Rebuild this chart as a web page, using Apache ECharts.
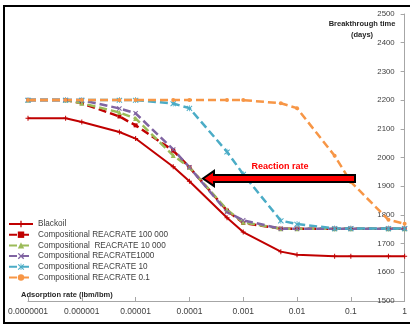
<!DOCTYPE html>
<html>
<head>
<meta charset="utf-8">
<script src="https://cdn.jsdelivr.net/npm/echarts@6/dist/echarts.min.js"></script>
<style>
html,body{margin:0;padding:0;background:#fff}
#chart{width:410px;height:325px}
</style>
</head>
<body>
<div id="chart"></div>
<script>
// adsorption rate (lbm/lbm), log scale
var xValues = [1e-7, 5e-7, 1e-6, 5e-6, 1e-5, 5e-5, 1e-4, 5e-4, 1e-3, 5e-3, 1e-2, 5e-2, 0.1, 0.5, 1];
var xTickLabels = ['0.0000001', '0.000001', '0.00001', '0.0001', '0.001', '0.01', '0.1', '1'];

// breakthrough time (days)
var blackoil   = [2137, 2137, 2124, 2089, 2066, 1968, 1917, 1790, 1740, 1672, 1661, 1656, 1656, 1656, 1656];
var rate100000 = [2200, 2200, 2189, 2143, 2112, 2024, 1966, 1815, 1772, 1752, 1752, 1752, 1752, 1752, 1752];
var rate10000  = [2200, 2200, 2189, 2157, 2136, 2007, 1966, 1818, 1774, 1752, 1752, 1752, 1752, 1752, 1752];
var rate1000   = [2200, 2200, 2200, 2171, 2154, 2028, 1966, 1810, 1781, 1752, 1752, 1752, 1752, 1752, 1752];
var rate10     = [2200, 2200, 2200, 2200, 2200, 2188, 2172, 2020, 1942, 1780, 1768, 1753, 1753, 1753, 1753];
var rate01     = [2200, 2200, 2200, 2200, 2200, 2200, 2200, 2200, 2200, 2189, 2172, 2006, 1915, 1783, 1769];

var seriesNames = ['Blackoil', 'Compositional REACRATE 100 000', 'Compositional  REACRATE 10 000',
    'Compositional REACRATE1000', 'Compositional REACRATE 10', 'Compositional REACRATE 0.1'];

var plusPath = 'path://M4,0H6V4H10V6H6V10H4V6H0V4H4Z';
var crossPath = 'path://M0,1.5L1.5,0L5,3.5L8.5,0L10,1.5L6.5,5L10,8.5L8.5,10L5,6.5L1.5,10L0,8.5L3.5,5Z';
var starPath = 'path://M0,2L1.2,0.8L4.4,4V0H5.6V4L8.8,0.8L10,2L6.4,5.6L10,9.2L8.8,10.4L5.6,7.2V10.4H4.4V7.2L1.2,10.4L0,9.2L3.6,5.6Z';

function toPairs(vals) {
    return xValues.map(function (x, i) { return [x, vals[i]]; });
}

function makeSeries(name, vals, color, symbol, size, dashed) {
    return {
        name: name,
        type: 'line',
        data: toPairs(vals),
        symbol: symbol,
        symbolSize: size,
        showSymbol: true,
        animation: false,
        itemStyle: { color: color },
        lineStyle: {
            color: color,
            width: dashed ? 2.5 : 2,
            type: dashed ? [8, 4] : 'solid'
        },
        emphasis: { disabled: true }
    };
}

var myChart = echarts.init(document.getElementById('chart'));

var option = {
    backgroundColor: '#fff',
    grid: { left: 28, right: 2, top: 14, bottom: 24 },
    legend: {
        orient: 'vertical',
        left: 8,
        top: 220,
        padding: 0,
        itemWidth: 24,
        itemHeight: 8,
        itemGap: 2.7,
        textStyle: { fontFamily: 'Liberation Sans', fontSize: 8.2, color: '#404040', lineHeight: 8 },
        data: seriesNames
    },
    xAxis: {
        type: 'log',
        logBase: 10,
        min: 1e-7,
        max: 1,
        axisLine: { show: true, lineStyle: { color: '#a6a6a6', width: 1 } },
        axisTick: { show: true, inside: true, length: 4, lineStyle: { color: '#a6a6a6' } },
        minorTick: { show: false },
        splitLine: { show: false },
        axisLabel: {
            margin: 6,
            fontFamily: 'Liberation Sans',
            fontSize: 8.5,
            color: '#404040',
            formatter: function (v) {
                return xTickLabels[Math.round(Math.log10(v)) + 7];
            }
        }
    },
    yAxis: {
        type: 'value',
        position: 'right',
        min: 1500,
        max: 2500,
        interval: 100,
        axisLine: { show: true, lineStyle: { color: '#a6a6a6', width: 1 } },
        axisTick: { show: true, inside: true, length: 4, lineStyle: { color: '#a6a6a6' } },
        splitLine: { show: false },
        axisLabel: {
            inside: true,
            margin: 10,
            fontFamily: 'Liberation Sans',
            fontSize: 7.8,
            color: '#404040',
            formatter: function (v) { return String(v); }
        }
    },
    graphic: [
        {
            type: 'rect',
            silent: true,
            shape: { x: 4, y: 6, width: 412, height: 317 },
            style: { fill: 'none', stroke: '#000', lineWidth: 2 }
        },
        {
            type: 'text',
            x: 362, y: 24,
            style: {
                text: 'Breakthrough time', fontFamily: 'Liberation Sans', fontSize: 7.5,
                fontWeight: 'bold', fill: '#262626', align: 'center', verticalAlign: 'middle'
            }
        },
        {
            type: 'text',
            x: 362, y: 35,
            style: {
                text: '(days)', fontFamily: 'Liberation Sans', fontSize: 7.5,
                fontWeight: 'bold', fill: '#262626', align: 'center', verticalAlign: 'middle'
            }
        },
        {
            type: 'text',
            x: 21, y: 295,
            style: {
                text: 'Adsorption rate (lbm/lbm)', fontFamily: 'Liberation Sans', fontSize: 7.5,
                fontWeight: 'bold', fill: '#262626', align: 'left', verticalAlign: 'middle'
            }
        },
        {
            type: 'text',
            x: 280, y: 167,
            style: {
                text: 'Reaction rate', fontFamily: 'Liberation Sans', fontSize: 9,
                fontWeight: 'bold', fill: '#ff0000', align: 'center', verticalAlign: 'middle'
            }
        },
        {
            type: 'polygon',
            z: 100,
            shape: {
                points: [[203, 178.5], [214, 171], [214, 175], [355, 175], [355, 182], [214, 182], [214, 186]]
            },
            style: { fill: '#ff0000', stroke: '#000', lineWidth: 2 }
        }
    ],
    series: [
        makeSeries(seriesNames[0], blackoil, '#c00000', plusPath, 5, false),
        makeSeries(seriesNames[1], rate100000, '#c00000', 'rect', 4, true),
        makeSeries(seriesNames[2], rate10000, '#9bbb59', 'triangle', 5, true),
        makeSeries(seriesNames[3], rate1000, '#8064a2', crossPath, 5, true),
        makeSeries(seriesNames[4], rate10, '#4bacc6', starPath, 6, true),
        makeSeries(seriesNames[5], rate01, '#f79646', 'circle', 4, true)
    ]
};

myChart.setOption(option);
</script>
</body>
</html>
